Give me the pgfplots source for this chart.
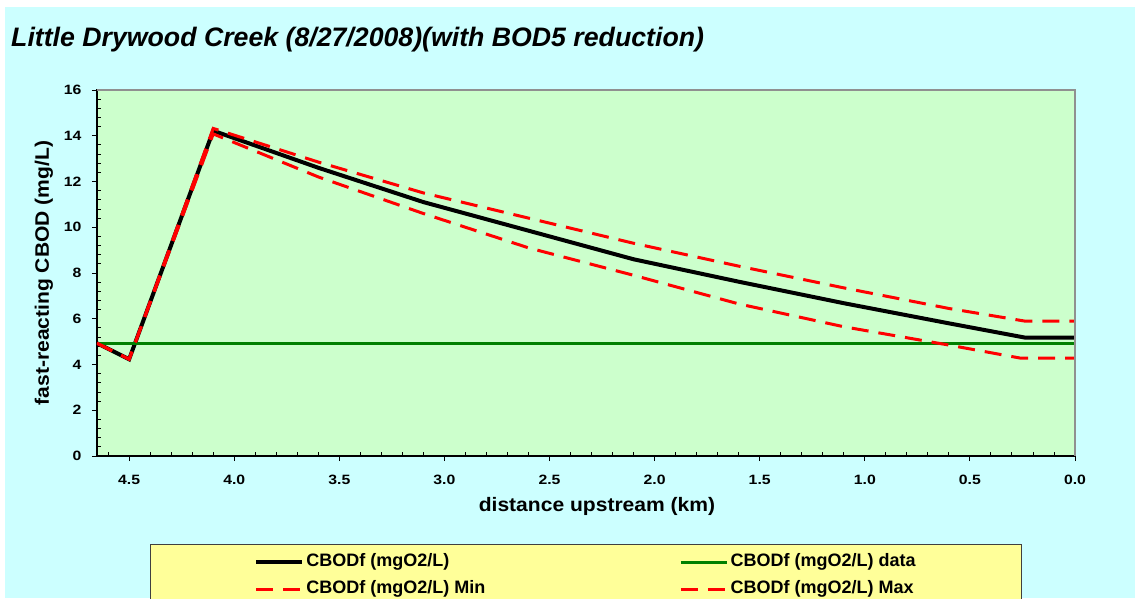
\documentclass[border=0pt]{standalone}
\usepackage{fontspec}
\setmainfont{Liberation Sans}
\newfontfamily\tickfont[FakeStretch=1.17]{Liberation Sans}
\newfontfamily\labfont[FakeStretch=1.08]{Liberation Sans}
\usepackage{pgfplots}
\pgfplotsset{compat=1.18}
\definecolor{bgcyan}{HTML}{CCFFFF}
\definecolor{plotgreen}{HTML}{CCFFCC}
\definecolor{legyellow}{HTML}{FFFF99}
\definecolor{dgreen}{HTML}{008000}
\definecolor{framegray}{HTML}{909090}
\begin{document}
\begin{tikzpicture}
\useasboundingbox (-97pt,-142pt) rectangle (1038pt,456pt);
\fill[white] (-97pt,-142pt) rectangle (1038pt,456pt);
\fill[bgcyan] (-92pt,-142pt) rectangle (1038pt,449pt);
\node[anchor=base west, inner sep=0pt, font=\fontsize{26.7}{31}\selectfont\bfseries\itshape] at (-86pt,409.5pt) {Little Drywood Creek (8/27/2008)(with BOD5 reduction)};
\begin{axis}[
  at={(0pt,0pt)}, anchor=south west,
  scale only axis, width=978pt, height=366pt,
  xmin=0, xmax=4.653, ymin=0, ymax=16,
  x dir=reverse,
  axis background/.style={fill=plotgreen},
  axis line style={black, line width=1.2pt},
  xtick={0,0.5,1,1.5,2,2.5,3,3.5,4,4.5},
  minor xtick={0.1,0.2,0.3,0.4,0.6,0.7,0.8,0.9,1.1,1.2,1.3,1.4,1.6,1.7,1.8,1.9,2.1,2.2,2.3,2.4,2.6,2.7,2.8,2.9,3.1,3.2,3.3,3.4,3.6,3.7,3.8,3.9,4.1,4.2,4.3,4.4,4.6},
  ytick={0,2,4,6,8,10,12,14,16},
  minor ytick={0.4,0.8,1.2,1.6,2.4,2.8,3.2,3.6,4.4,4.8,5.2,5.6,6.4,6.8,7.2,7.6,8.4,8.8,9.2,9.6,10.4,10.8,11.2,11.6,12.4,12.8,13.2,13.6,14.4,14.8,15.2,15.6},
  xtick pos=bottom, ytick pos=left,
  tick align=outside,
  major tick length=5pt, minor tick length=4pt,
  every tick/.style={black, line width=0.9pt},
  minor x tick style={yshift=4pt},
  minor y tick style={xshift=4pt},
  /pgf/number format/assume math mode=true,
  tick label style={font=\tickfont\fontsize{13.5}{16}\selectfont\bfseries},
  x tick label style={/pgf/number format/fixed, /pgf/number format/fixed zerofill, /pgf/number format/precision=1, yshift=-11pt},
  y tick label style={xshift=-7pt},
  xlabel={distance upstream (km)},
  ylabel={fast-reacting CBOD (mg/L)},
  label style={font=\labfont\fontsize{19.5}{24}\selectfont\bfseries},
  xlabel style={at={(axis description cs:0.5,0)}, anchor=base, yshift=-55pt, xshift=11pt},
  ylabel style={at={(axis description cs:0,0.5)}, anchor=base, yshift=48pt},
  legend columns=2,
  legend style={at={(0.5,-0.2404)}, anchor=north, fill=legyellow, draw=black!75, line width=0.8pt,
    font=\fontsize{18}{21}\selectfont\bfseries,
    inner xsep=104pt, inner ysep=7.5pt,
    nodes={text height=13pt, text depth=4pt, inner sep=2pt},
    row sep=6pt,
    /tikz/every even column/.append style={column sep=192pt}},
  legend cell align=left,
  legend image code/.code={\draw[#1] (0pt,0pt) -- (46pt,0pt);},
]
\addplot[black, line width=4pt] coordinates {
(4.653,4.93) (4.5,4.23) (4.1,14.22) (3.6,12.6) (3.1,11.1) (2.6,9.85) (2.1,8.6) (1.6,7.62) (1.1,6.68) (0.6,5.8) (0.24,5.18) (0,5.18)};
\addlegendentry{CBODf (mgO2/L)}
\addplot[dgreen, line width=3.3pt] coordinates {(4.653,4.93) (0,4.93)};
\addlegendentry{CBODf (mgO2/L) data}
\addplot[red, line width=3pt, dash pattern=on 17pt off 10pt] coordinates {
(4.653,4.93) (4.5,4.23) (4.1,14.08) (3.6,12.2) (3.1,10.6) (2.6,9.1) (2.1,7.9) (1.6,6.65) (1.1,5.65) (0.6,4.85) (0.26,4.28) (0,4.28)};
\addlegendentry{CBODf (mgO2/L) Min}
\addplot[red, line width=3pt, dash pattern=on 17pt off 10pt] coordinates {
(4.653,4.93) (4.5,4.23) (4.1,14.32) (3.6,12.85) (3.1,11.5) (2.6,10.4) (2.1,9.3) (1.6,8.3) (1.1,7.35) (0.6,6.45) (0.24,5.9) (0,5.9)};
\addlegendentry{CBODf (mgO2/L) Max}
\end{axis}
\draw[framegray, line width=1.2pt] (0pt,366pt) -- (978pt,366pt) -- (978pt,0pt);
\end{tikzpicture}
\end{document}
